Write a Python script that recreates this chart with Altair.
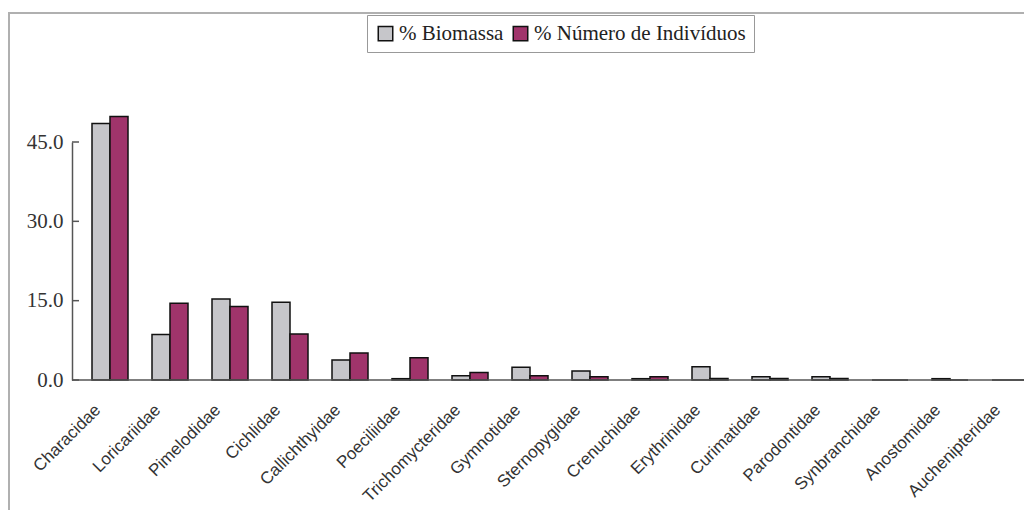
import altair as alt
import pandas as pd

families = ["Characidae", "Loricariidae", "Pimelodidae", "Cichlidae", "Callichthyidae",
            "Poeciliidae", "Trichomycteridae", "Gymnotidae", "Sternopygidae", "Crenuchidae",
            "Erythrinidae", "Curimatidae", "Parodontidae", "Synbranchidae", "Anostomidae",
            "Auchenipteridae"]
biomassa = [48.5, 8.6, 15.3, 14.7, 3.8, 0.25, 0.8, 2.4, 1.7, 0.25, 2.5, 0.6, 0.6, 0.0, 0.25, 0.0]
individuos = [49.8, 14.5, 13.9, 8.7, 5.1, 4.2, 1.4, 0.8, 0.6, 0.6, 0.3, 0.3, 0.3, 0.0, 0.0, 0.0]
series = ["% Biomassa", "% Número de Indivíduos"]
colors = ["#c6c6ca", "#a0346b"]
y_ticks = [0, 15, 30, 45]

rows = []
for f, b, n in zip(families, biomassa, individuos):
    rows.append({"family": f, "serie": series[0], "value": b})
    rows.append({"family": f, "serie": series[1], "value": n})
df = pd.DataFrame(rows)

W = 952
H = 238

bars = alt.Chart(df).mark_bar(stroke="#111", strokeWidth=1.5).encode(
    x=alt.X("family:N", sort=families, title=None,
            scale=alt.Scale(range=[8, 968], paddingInner=0.4, paddingOuter=0.2),
            axis=alt.Axis(labelAngle=-45, labelAlign="right", labelBaseline="middle",
                          labelFont="Liberation Sans", labelFontSize=17, labelColor="#333",
                          labelPadding=27, labelOffset=-12, ticks=False, domain=False,
                          labelOverlap=False, labelLimit=0)),
    xOffset=alt.XOffset("serie:N", sort=series, scale=alt.Scale(paddingInner=0, paddingOuter=0)),
    y=alt.Y("value:Q", title=None,
            scale=alt.Scale(domain=[0, 45], nice=False, clamp=False),
            axis=alt.Axis(values=y_ticks, format=".1f", ticks=False, grid=False,
                          labelFont="Liberation Serif", labelFontSize=21, labelColor="#333",
                          labelPadding=9, domainColor="#555", domainWidth=1.5)),
    color=alt.Color("serie:N", sort=series,
                    scale=alt.Scale(domain=series, range=colors),
                    legend=alt.Legend(title=None, orient="none", direction="horizontal",
                                      legendX=295, legendY=-127,
                                      labelFont="Liberation Serif", labelFontSize=21,
                                      labelColor="#222", symbolType="square", symbolSize=210,
                                      symbolStrokeColor="#111", symbolStrokeWidth=1.5,
                                      symbolOpacity=1, columnPadding=6, labelOffset=3,
                                      labelLimit=0,
                                      padding=8, strokeColor="#999", fillColor="white")),
)

tick_df = pd.DataFrame({"v": y_ticks})
ticks = alt.Chart(tick_df).mark_rule(color="#555", strokeWidth=1.5).encode(
    y=alt.Y("v:Q"), x=alt.value(0), x2=alt.value(7)
)

base_df = pd.DataFrame({"v": [0]})
baseline = alt.Chart(base_df).mark_rule(color="#555", strokeWidth=1.5).encode(
    y=alt.Y("v:Q"), x=alt.value(0), x2=alt.value(W + 20)
)

frame = alt.Chart(base_df).mark_rect(fillOpacity=0, stroke="#b0b0b0", strokeWidth=2).encode(
    x=alt.value(-63), x2=alt.value(W + 40), y=alt.value(-129), y2=alt.value(H + 200)
)

chart = alt.layer(frame, bars, ticks, baseline).resolve_scale(y="shared").properties(
    width=W, height=H,
    background="white",
    autosize=alt.AutoSizeParams(type="none"),
    padding={"left": 64, "top": 134, "right": 0, "bottom": 130},
).configure_view(stroke="transparent", strokeWidth=0).configure_axis(grid=False)

chart.save("out.html", embed_options={"renderer": "svg", "actions": False})
